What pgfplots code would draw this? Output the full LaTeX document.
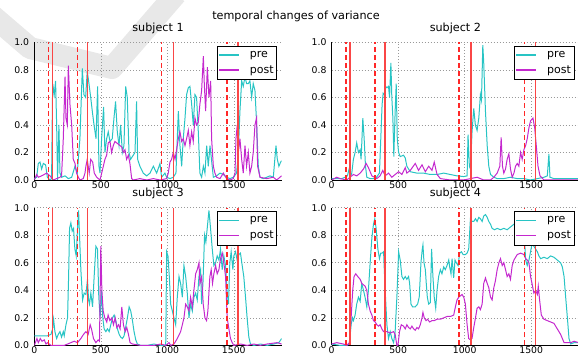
\documentclass[border=0pt]{standalone}
\usepackage{fontspec}
\setmainfont{DejaVu Sans}
\usepackage{pgfplots}
\pgfplotsset{compat=1.18}
\definecolor{precol}{RGB}{40,196,196}
\definecolor{postcol}{RGB}{196,40,206}
\definecolor{evdashcol}{RGB}{255,40,40}
\definecolor{evsolidcol}{RGB}{250,70,70}
\pgfplotsset{
 subj/.style={
  scale only axis, width=247.4pt, height=137.7pt,
  xmin=0, xmax=1860, ymin=0, ymax=1,
  axis x line=bottom, axis y line=left,
  axis line style={-, black, line width=0.8pt},
  xtick={0,500,1000,1500}, ytick={0,0.2,0.4,0.6,0.8,1.0},
  major tick length=0pt,
  xmajorgrids, ymajorgrids,
  major grid style={gray!80, line width=0.6pt, dash pattern=on 1pt off 2pt},
  /pgf/number format/assume math mode=true,
  tick label style={font=\fontsize{9.3}{11}\selectfont},
  xticklabel style={/pgf/number format/1000 sep={}, anchor=base, inner sep=0pt, yshift=-8.3pt},
  yticklabel style={/pgf/number format/fixed, /pgf/number format/fixed zerofill, /pgf/number format/precision=1, inner sep=0pt, xshift=-5pt},
  title style={font=\fontsize{11.2}{13}\selectfont, at={(0.5,1)}, anchor=base, inner sep=0pt, yshift=4.8pt},
  legend style={at={(1,1)}, anchor=north east, xshift=-4.7pt, yshift=-3.7pt, draw=black, line width=0.8pt, fill=white, font=\fontsize{11}{13}\selectfont, inner xsep=1pt, inner ysep=3pt, nodes={inner sep=2pt}, /tikz/every odd column/.append style={column sep=8pt}, row sep=2.5pt},
  legend cell align=left,
 },
 preline/.style={draw=precol, line width=1pt, mark=none, legend image code/.code={\draw[draw=precol, line width=1.5pt] (0pt,0pt) -- (20pt,0pt);}},
 postline/.style={draw=postcol, line width=1pt, mark=none, legend image code/.code={\draw[draw=postcol, line width=1.5pt] (0pt,0pt) -- (20pt,0pt);}},
 evdash/.style={ycomb, draw=evdashcol, line width=1.4pt, dash pattern=on 5pt off 3pt, mark=none, forget plot},
 evsolid/.style={ycomb, draw=evsolidcol, line width=1.5pt, mark=none, forget plot},
}
\newcommand{\events}{%
 \addplot[evdash] coordinates {(107,1) (327,1) (956,1) (1449,1)};
 \addplot[evsolid] coordinates {(136,1) (400,1) (1047,1) (1532,1)};
}
\begin{document}
\begin{tikzpicture}
\path[use as bounding box] (0,0) rectangle (578pt,-358pt);
\draw[line width=22pt, black!9, line join=round, line cap=butt] (-12pt,-12pt) -- (30pt,-48pt) -- (112pt,-68pt) -- (176pt,6pt);
\node[anchor=base, inner sep=0pt, font=\fontsize{11.2}{13}\selectfont] at (296pt,-20pt) {temporal changes of variance};

% subject 1
\begin{axis}[subj, at={(34.3pt,-42.3pt)}, anchor=north west, title={subject 1}]
\addplot[preline] coordinates {(0,0.01)(18,0.02)(30,0.12)(43,0.13)(55,0.08)(68,0.12)(85,0.11)(98,0.02)(118,0.0)(130,0.01)(138,0.70)(150,0.62)(160,0.72)(168,0.4)(175,0.0)(185,0.4)(193,0.05)(205,0.02)(231,0.03)(256,0.01)(281,0.02)(306,0.1)(323,0.05)(343,0.3)(361,0.81)(373,0.62)(386,0.6)(398,0.79)(411,0.7)(424,0.6)(436,0.5)(449,0.4)(464,0.3)(476,0.68)(486,0.1)(494,0.05)(506,0.3)(521,0.53)(531,0.2)(544,0.3)(556,0.35)(569,0.28)(586,0.3)(599,0.45)(611,0.57)(624,0.35)(637,0.25)(649,0.4)(662,0.2)(674,0.25)(687,0.68)(699,0.6)(712,0.2)(724,0.15)(744,0.18)(757,0.2)(769,0.57)(777,0.15)(794,0.1)(819,0.05)(845,0.03)(870,0.05)(895,0.1)(920,0.05)(945,0.12)(957,0.02)(982,0.05)(995,0.02)(1020,0.01)(1045,0.02)(1065,0.05)(1083,0.5)(1095,0.25)(1108,0.1)(1120,0.3)(1133,0.45)(1145,0.62)(1158,0.67)(1170,0.68)(1183,0.55)(1195,0.4)(1208,0.62)(1220,0.6)(1233,0.35)(1245,0.05)(1258,0.02)(1271,0.1)(1283,0.05)(1296,0.25)(1308,0.1)(1321,0.25)(1346,0.02)(1371,0.03)(1396,0.05)(1421,0.04)(1446,0.02)(1471,0.01)(1496,0.02)(1521,0.05)(1534,0.2)(1546,0.5)(1559,0.72)(1571,0.68)(1584,0.75)(1596,0.7)(1609,0.7)(1621,0.72)(1634,0.6)(1646,0.7)(1659,0.65)(1671,0.42)(1684,0.1)(1697,0.02)(1722,0.01)(1747,0.02)(1772,0.03)(1797,0.02)(1817,0.25)(1827,0.15)(1839,0.1)(1852,0.13)(1859,0.14)};
\addlegendentry{pre}
\addplot[postline] coordinates {(0,0.0)(18,0.04)(30,0.02)(55,0.03)(93,0.05)(118,0.03)(143,0.0)(168,0.01)(193,0.02)(205,0.03)(218,0.3)(231,0.75)(238,0.45)(248,0.4)(256,0.83)(268,0.55)(281,0.4)(293,0.15)(306,0.12)(318,0.05)(331,0.02)(343,0.0)(368,0.01)(381,0.05)(388,0.1)(398,0.15)(413,0.05)(424,0.15)(439,0.13)(451,0.05)(469,0.02)(494,0.0)(519,0.1)(531,0.15)(544,0.18)(556,0.27)(569,0.28)(581,0.2)(594,0.25)(606,0.28)(619,0.27)(632,0.26)(644,0.25)(657,0.24)(669,0.2)(682,0.22)(694,0.15)(707,0.18)(719,0.12)(732,0.01)(744,0.0)(794,0.01)(845,0.0)(895,0.01)(945,0.0)(995,0.01)(1007,0.05)(1020,0.13)(1032,0.15)(1045,0.2)(1058,0.15)(1070,0.22)(1083,0.3)(1095,0.35)(1108,0.28)(1120,0.3)(1133,0.25)(1145,0.3)(1158,0.36)(1170,0.25)(1183,0.35)(1195,0.28)(1208,0.45)(1220,0.4)(1233,0.42)(1245,0.55)(1258,0.65)(1271,0.9)(1278,0.7)(1288,0.5)(1301,0.82)(1313,0.6)(1326,0.72)(1333,0.3)(1346,0.1)(1358,0.05)(1371,0.02)(1396,0.01)(1421,0.05)(1446,0.01)(1471,0.0)(1496,0.01)(1509,0.05)(1516,0.3)(1526,0.4)(1534,0.2)(1546,0.3)(1559,0.15)(1571,0.05)(1584,0.25)(1596,0.1)(1609,0.2)(1621,0.05)(1634,0.1)(1646,0.2)(1659,0.4)(1671,0.45)(1679,0.1)(1697,0.02)(1747,0.01)(1797,0.02)(1822,0.0)(1859,0.03)};
\addlegendentry{post}
\events
\end{axis}

% subject 2
\begin{axis}[subj, at={(331.7pt,-42.3pt)}, anchor=north west, title={subject 2}]
\addplot[preline] coordinates {(0,0.01)(38,0.01)(75,0.01)(101,0.02)(118,0.03)(131,0.08)(138,0.02)(151,0.05)(163,0.15)(176,0.2)(188,0.27)(201,0.2)(214,0.22)(221,0.15)(234,0.45)(244,0.3)(254,0.1)(264,0.02)(289,0.01)(327,0.01)(344,0.03)(359,0.05)(369,0.3)(379,0.55)(387,0.63)(397,0.62)(405,0.68)(415,0.67)(427,0.68)(435,0.6)(445,0.85)(452,0.6)(460,0.45)(467,0.17)(477,0.5)(485,0.7)(493,0.3)(503,0.2)(515,0.17)(540,0.18)(553,0.16)(565,0.1)(578,0.08)(591,0.06)(641,0.05)(691,0.05)(741,0.04)(792,0.04)(842,0.05)(892,0.04)(942,0.03)(993,0.025)(1018,0.03)(1025,0.33)(1035,0.1)(1043,0.08)(1055,0.35)(1068,0.52)(1080,0.4)(1093,0.36)(1106,0.45)(1118,0.62)(1126,0.58)(1136,0.98)(1143,0.85)(1156,0.5)(1169,0.25)(1181,0.1)(1194,0.04)(1219,0.02)(1244,0.01)(1294,0.01)(1344,0.02)(1395,0.01)(1445,0.01)(1495,0.0)(1546,0.01)(1596,0.02)(1621,0.03)(1633,0.19)(1641,0.02)(1671,0.01)(1857,0.01)};
\addlegendentry{pre}
\addplot[postline] coordinates {(0,0.0)(38,0.02)(63,0.01)(113,0.0)(138,0.02)(163,0.04)(188,0.03)(214,0.05)(239,0.08)(259,0.12)(276,0.09)(302,0.03)(339,0.01)(364,0.03)(384,0.07)(402,0.03)(427,0.05)(452,0.02)(477,0.04)(503,0.06)(528,0.04)(553,0.09)(565,0.05)(591,0.07)(628,0.12)(653,0.07)(679,0.11)(704,0.06)(729,0.1)(754,0.07)(771,0.13)(792,0.04)(817,0.01)(892,0.0)(993,0.0)(1043,0.01)(1093,0.02)(1143,0.0)(1194,0.0)(1219,0.02)(1244,0.05)(1264,0.1)(1274,0.31)(1284,0.1)(1294,0.05)(1307,0.08)(1319,0.15)(1332,0.19)(1344,0.08)(1357,0.02)(1370,0.05)(1382,0.1)(1395,0.12)(1407,0.1)(1420,0.2)(1432,0.15)(1445,0.22)(1458,0.25)(1470,0.3)(1483,0.38)(1495,0.43)(1513,0.45)(1526,0.38)(1538,0.25)(1551,0.1)(1566,0.03)(1596,0.0)(1857,0.0)};
\addlegendentry{post}
\events
\end{axis}

% subject 3
\begin{axis}[subj, at={(34.3pt,-207.7pt)}, anchor=north west, title={subject 3}]
\addplot[preline] coordinates {(0,0.07)(50,0.07)(100,0.07)(125,0.08)(138,0.12)(145,0.19)(155,0.1)(168,0.05)(180,0.08)(193,0.1)(205,0.06)(218,0.1)(225,0.07)(238,0.15)(250,0.2)(258,0.5)(265,0.85)(275,0.89)(285,0.83)(295,0.85)(305,0.7)(315,0.65)(325,0.85)(333,0.98)(340,0.8)(350,0.55)(363,0.33)(375,0.38)(388,0.37)(400,0.48)(408,0.33)(415,0.3)(425,0.38)(438,0.28)(450,0.5)(463,0.72)(475,0.7)(485,0.35)(495,0.2)(505,0.4)(515,0.2)(525,0.12)(538,0.1)(550,0.12)(563,0.1)(575,0.15)(588,0.2)(600,0.22)(613,0.18)(625,0.12)(638,0.08)(650,0.06)(663,0.05)(675,0.07)(700,0.2)(713,0.28)(725,0.25)(738,0.18)(750,0.1)(763,0.04)(775,0.01)(800,0.0)(850,0.0)(900,0.01)(950,0.0)(988,0.0)(995,0.68)(1005,0.65)(1015,0.5)(1025,0.3)(1038,0.25)(1050,0.2)(1063,0.15)(1075,0.35)(1088,0.5)(1100,0.45)(1113,0.35)(1125,0.58)(1138,0.5)(1150,0.38)(1163,0.2)(1175,0.3)(1188,0.25)(1200,0.35)(1213,0.38)(1225,0.33)(1238,0.5)(1250,0.55)(1258,0.3)(1268,0.45)(1280,0.8)(1290,0.75)(1300,0.85)(1313,0.98)(1325,0.85)(1338,0.7)(1350,0.58)(1363,0.6)(1375,0.65)(1388,0.62)(1400,0.7)(1413,0.55)(1425,0.65)(1438,0.58)(1450,0.38)(1460,0.3)(1470,0.6)(1480,0.68)(1493,0.55)(1500,0.65)(1513,0.68)(1525,0.62)(1538,0.66)(1550,0.67)(1563,0.58)(1575,0.5)(1588,0.35)(1600,0.2)(1613,0.06)(1625,0.01)(1650,0.0)(1700,0.01)(1750,0.0)(1800,0.01)(1838,0.02)(1860,0.05)};
\addlegendentry{pre}
\addplot[postline] coordinates {(0,0.0)(20,0.05)(30,0.02)(45,0.05)(58,0.03)(75,0.04)(88,0.01)(100,0.02)(125,0.0)(175,0.0)(225,0.0)(250,0.01)(275,0.02)(300,0.03)(325,0.02)(350,0.05)(370,0.08)(388,0.1)(405,0.08)(420,0.15)(430,0.12)(445,0.05)(463,0.02)(480,0.04)(490,0.03)(500,0.72)(508,0.4)(518,0.25)(530,0.2)(545,0.17)(555,0.22)(568,0.18)(583,0.2)(595,0.15)(608,0.2)(620,0.13)(633,0.15)(645,0.12)(658,0.28)(670,0.15)(683,0.1)(695,0.13)(708,0.08)(720,0.02)(738,0.01)(800,0.0)(900,0.0)(950,0.01)(988,0.0)(1013,0.02)(1025,0.0)(1050,0.01)(1075,0.05)(1100,0.1)(1113,0.15)(1125,0.2)(1138,0.3)(1150,0.28)(1163,0.25)(1175,0.35)(1188,0.28)(1200,0.4)(1213,0.52)(1225,0.55)(1238,0.6)(1245,0.45)(1258,0.5)(1270,0.3)(1283,0.2)(1295,0.18)(1305,0.25)(1320,0.5)(1330,0.55)(1340,0.45)(1350,0.52)(1363,0.58)(1375,0.52)(1388,0.55)(1400,0.63)(1413,0.67)(1425,0.6)(1438,0.5)(1450,0.2)(1463,0.12)(1475,0.05)(1488,0.02)(1500,0.0)(1550,0.01)(1600,0.0)(1650,0.01)(1700,0.0)(1750,0.01)(1825,0.02)(1860,0.01)};
\addlegendentry{post}
\events
\end{axis}

% subject 4
\begin{axis}[subj, at={(331.7pt,-207.7pt)}, anchor=north west, title={subject 4}]
\addplot[preline] coordinates {(0,0.01)(63,0.0)(113,0.0)(133,0.01)(146,0.15)(156,0.2)(163,0.18)(176,0.22)(188,0.3)(201,0.35)(214,0.32)(226,0.45)(239,0.4)(251,0.35)(264,0.28)(276,0.4)(289,0.6)(302,0.78)(314,0.88)(324,0.92)(334,0.85)(347,0.7)(359,0.63)(369,0.67)(379,0.67)(390,0.68)(402,0.4)(415,0.15)(427,0.05)(440,0.1)(452,0.05)(465,0.02)(477,0.1)(490,0.35)(503,0.68)(515,0.62)(528,0.5)(540,0.48)(553,0.5)(565,0.48)(578,0.5)(586,0.45)(596,0.3)(608,0.28)(628,0.28)(646,0.3)(658,0.35)(671,0.6)(681,0.7)(686,0.73)(694,0.6)(704,0.55)(711,0.45)(719,0.35)(729,0.3)(741,0.31)(751,0.7)(761,0.5)(771,0.35)(782,0.27)(792,0.4)(804,0.5)(817,0.55)(829,0.52)(842,0.57)(854,0.55)(867,0.58)(880,0.62)(887,0.57)(897,0.52)(905,0.63)(917,0.49)(927,0.62)(937,0.6)(950,0.58)(962,0.67)(975,0.68)(988,0.66)(1005,0.66)(1018,0.67)(1030,0.7)(1043,0.92)(1055,0.9)(1068,0.9)(1081,0.92)(1093,0.9)(1106,0.93)(1118,0.92)(1131,0.9)(1143,0.94)(1156,0.95)(1169,0.93)(1181,0.9)(1194,0.88)(1206,0.85)(1224,0.84)(1244,0.85)(1269,0.84)(1294,0.85)(1319,0.84)(1344,0.86)(1370,0.88)(1395,0.87)(1420,0.88)(1445,0.86)(1458,0.62)(1470,0.58)(1483,0.62)(1495,0.68)(1508,0.75)(1520,0.72)(1533,0.7)(1546,0.68)(1558,0.65)(1571,0.63)(1596,0.64)(1621,0.63)(1646,0.65)(1671,0.64)(1696,0.62)(1721,0.6)(1734,0.57)(1747,0.5)(1759,0.35)(1772,0.2)(1784,0.05)(1797,0.01)(1822,0.02)(1857,0.02)};
\addlegendentry{pre}
\addplot[postline] coordinates {(0,0.01)(38,0.02)(88,0.01)(113,0.0)(133,0.02)(146,0.2)(158,0.4)(168,0.5)(181,0.52)(196,0.5)(214,0.48)(226,0.45)(239,0.44)(251,0.43)(264,0.4)(276,0.3)(289,0.25)(302,0.22)(314,0.18)(327,0.17)(339,0.15)(352,0.14)(364,0.15)(377,0.12)(390,0.1)(415,0.1)(440,0.09)(465,0.1)(477,0.08)(490,0.0)(498,0.0)(510,0.1)(523,0.15)(540,0.14)(553,0.12)(565,0.15)(578,0.13)(591,0.12)(603,0.14)(616,0.12)(628,0.11)(641,0.13)(653,0.12)(666,0.15)(679,0.2)(686,0.24)(696,0.2)(709,0.18)(721,0.19)(736,0.17)(754,0.18)(771,0.18)(792,0.19)(817,0.19)(842,0.2)(867,0.21)(892,0.21)(917,0.22)(930,0.28)(942,0.33)(955,0.35)(968,0.36)(980,0.37)(993,0.35)(1005,0.3)(1018,0.15)(1030,0.05)(1043,0.04)(1055,0.05)(1068,0.13)(1081,0.2)(1093,0.27)(1106,0.28)(1118,0.26)(1131,0.3)(1143,0.45)(1156,0.49)(1169,0.45)(1181,0.42)(1194,0.35)(1206,0.33)(1219,0.42)(1231,0.47)(1244,0.55)(1257,0.6)(1269,0.63)(1282,0.58)(1294,0.6)(1307,0.55)(1319,0.5)(1332,0.52)(1344,0.48)(1357,0.58)(1370,0.62)(1395,0.66)(1420,0.67)(1445,0.66)(1458,0.63)(1470,0.62)(1483,0.6)(1495,0.5)(1508,0.44)(1520,0.38)(1533,0.4)(1546,0.37)(1553,0.43)(1563,0.33)(1576,0.22)(1596,0.19)(1621,0.18)(1646,0.17)(1671,0.16)(1696,0.12)(1721,0.08)(1747,0.02)(1772,0.02)(1797,0.02)(1822,0.03)(1857,0.02)};
\addlegendentry{post}
\events
\end{axis}
\end{tikzpicture}
\end{document}
